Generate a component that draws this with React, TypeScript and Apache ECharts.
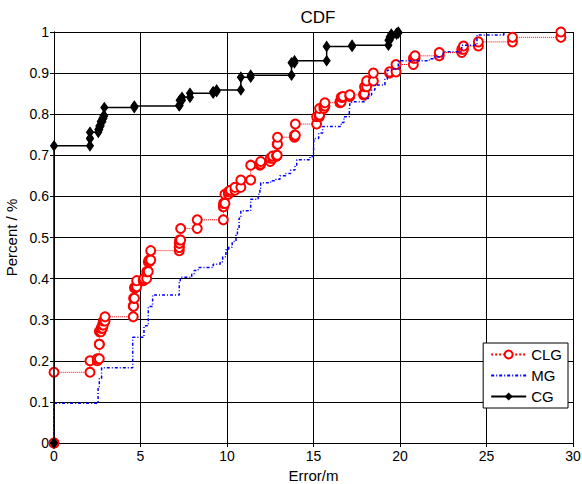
import React, { useEffect, useRef } from "react";
import * as echarts from "echarts";

const seriesNames = ["CLG", "MG", "CG"];
const xTicks = [0, 5, 10, 15, 20, 25, 30];
const yTicks = [0, 0.1, 0.2, 0.3, 0.4, 0.5, 0.6, 0.7, 0.8, 0.9, 1];

// CDF jump points [error (m), cumulative fraction]
const clgPoints: number[][] = [
  [0, 0], [0, 0.172], [2.08, 0.2], [2.5, 0.205], [2.62, 0.24], [2.62, 0.271], [2.72, 0.279],
  [2.8, 0.287], [2.85, 0.297], [2.95, 0.307], [4.58, 0.333], [4.6, 0.352], [4.65, 0.378],
  [4.7, 0.38], [4.78, 0.395], [5.16, 0.397], [5.2, 0.4], [5.36, 0.417], [5.45, 0.441],
  [5.5, 0.445], [5.59, 0.468], [7.24, 0.476], [7.24, 0.486], [7.26, 0.494], [7.32, 0.522],
  [8.28, 0.543], [9.79, 0.575], [9.8, 0.583], [9.88, 0.605], [10.08, 0.611], [10.2, 0.615],
  [10.46, 0.622], [10.8, 0.64], [11.37, 0.676], [11.9, 0.679], [11.95, 0.685], [12.5, 0.693],
  [12.64, 0.698], [12.87, 0.7], [12.9, 0.727], [12.92, 0.744], [13.9, 0.749], [13.95, 0.776],
  [15.18, 0.794], [15.33, 0.798], [15.35, 0.814], [15.6, 0.82], [15.66, 0.828], [16.53, 0.83],
  [16.6, 0.841], [16.7, 0.843], [17.1, 0.847], [17.9, 0.849], [17.95, 0.867], [18.07, 0.881],
  [18.46, 0.9], [19.4, 0.903], [19.77, 0.921], [20.77, 0.936], [20.87, 0.942], [22.27, 0.95],
  [23.57, 0.958], [23.67, 0.966], [24.53, 0.976], [26.5, 0.987], [29.3, 1.0],
];

const mgPoints: number[][] = [
  [0, 0], [0, 0.097], [2.5, 0.1], [2.55, 0.135], [2.62, 0.157], [2.75, 0.183], [4.55, 0.257],
  [5.2, 0.285], [5.45, 0.332], [5.7, 0.36], [7.24, 0.392], [7.3, 0.403], [7.96, 0.412],
  [8.1, 0.42], [8.34, 0.427], [9.2, 0.435], [9.6, 0.441], [9.75, 0.453], [9.94, 0.47],
  [10.1, 0.476], [10.3, 0.49], [10.52, 0.506], [10.6, 0.52], [10.7, 0.547], [10.8, 0.565],
  [11.37, 0.593], [11.8, 0.605], [11.9, 0.62], [11.95, 0.633], [12.52, 0.638], [12.83, 0.642],
  [13.06, 0.65], [13.4, 0.656], [13.68, 0.664], [13.93, 0.674], [14.03, 0.689], [14.8, 0.697],
  [15.0, 0.703], [15.02, 0.741], [15.3, 0.754], [15.53, 0.77], [16.6, 0.78], [16.76, 0.794],
  [17.07, 0.806], [17.1, 0.826], [17.2, 0.83], [18.0, 0.838], [18.17, 0.847], [18.36, 0.859],
  [18.55, 0.871], [19.13, 0.885], [19.27, 0.907], [19.5, 0.91], [19.9, 0.93], [21.7, 0.935],
  [22.0, 0.94], [22.5, 0.952], [23.57, 0.968], [24.45, 0.993], [26.0, 1.0],
];

const cgPoints: number[][] = [
  [0, 0], [0, 0.723], [2.08, 0.741], [2.08, 0.756], [2.56, 0.763], [2.62, 0.771], [2.7, 0.782],
  [2.8, 0.79], [2.86, 0.796], [2.91, 0.816], [4.64, 0.82], [7.24, 0.822], [7.26, 0.834],
  [7.4, 0.841], [7.86, 0.851], [9.2, 0.855], [9.4, 0.859], [10.8, 0.89], [11.37, 0.895],
  [13.73, 0.925], [13.9, 0.93], [15.76, 0.965], [17.23, 0.968], [19.33, 0.98], [19.4, 0.988],
  [19.5, 0.995], [19.8, 0.997], [19.9, 1.0],
];

// stairs vertices: each jump gives (x_i, y_{i-1}) and (x_i, y_i)
function stairs(pts: number[][]): number[][] {
  const out: number[][] = [pts[0]];
  for (let i = 1; i < pts.length; i++) {
    out.push([pts[i][0], pts[i - 1][1]]);
    out.push([pts[i][0], pts[i][1]]);
  }
  return out;
}

const FONT = "'Liberation Sans', Arial, sans-serif";

export default function App() {
  const ref = useRef<HTMLDivElement>(null);
  useEffect(() => {
    if (!ref.current) return;
    const chart = echarts.init(ref.current, undefined, { renderer: "svg" });
    const axisCommon = {
      axisLine: { show: true, lineStyle: { color: "#000", width: 1 } },
      axisTick: { show: true, inside: true, length: 4, lineStyle: { color: "#000" } },
    };
    chart.setOption({
      animation: false,
      backgroundColor: "#fff",
      textStyle: { fontFamily: FONT },
      title: {
        text: "CDF",
        left: 313,
        textAlign: "center",
        top: 4,
        textStyle: { fontSize: 17, fontWeight: "normal", color: "#000", fontFamily: FONT },
      },
      grid: {
        left: 54,
        right: 9,
        top: 32,
        bottom: 41,
        show: false,
        containLabel: false,
        outerBoundsMode: "none",
      },
      legend: {
        orient: "vertical",
        right: 14,
        top: 343,
        data: [
          { name: seriesNames[0] },
          { name: seriesNames[1], itemStyle: { opacity: 0 } },
          { name: seriesNames[2] },
        ],
        backgroundColor: "#fff",
        borderColor: "#000",
        borderWidth: 1,
        borderRadius: 0,
        padding: [4, 6, 4, 7],
        itemGap: 6,
        itemWidth: 35,
        itemHeight: 10,
        textStyle: { fontSize: 15, color: "#000", fontFamily: FONT },
      },
      xAxis: [
        {
          type: "value",
          min: 0,
          max: 30,
          interval: 5,
          name: "Error/m",
          nameLocation: "middle",
          nameGap: 24,
          nameTextStyle: { fontSize: 15, color: "#000", fontFamily: FONT },
          axisLabel: { color: "#000", fontSize: 14, margin: 6, fontFamily: FONT },
          splitLine: { show: true, lineStyle: { color: "#000", width: 1 } },
          ...axisCommon,
        },
        {
          type: "value",
          position: "top",
          min: 0,
          max: 30,
          interval: 5,
          axisLabel: { show: false },
          splitLine: { show: false },
          ...axisCommon,
        },
      ],
      yAxis: [
        {
          type: "value",
          min: 0,
          max: 1,
          interval: 0.1,
          name: "Percent / %",
          nameLocation: "middle",
          nameGap: 32,
          nameTextStyle: { fontSize: 15, color: "#000", fontFamily: FONT },
          axisLabel: {
            color: "#000",
            fontSize: 14,
            margin: 5,
            fontFamily: FONT,
            formatter: (v: number) => {
              const t = yTicks.find((y) => Math.abs(y - v) < 1e-6);
              return t === undefined ? "" : String(+t.toFixed(1));
            },
          },
          splitLine: { show: true, lineStyle: { color: "#000", width: 1 } },
          ...axisCommon,
        },
        {
          type: "value",
          position: "right",
          min: 0,
          max: 1,
          interval: 0.1,
          axisLabel: { show: false },
          splitLine: { show: false },
          ...axisCommon,
        },
      ],
      series: [
        {
          name: "CLG",
          type: "line",
          data: stairs(clgPoints),
          symbol: "emptyCircle",
          symbolSize: 9,
          showAllSymbol: true,
          lineStyle: { color: "#ff0000", width: 1, type: "dotted" },
          itemStyle: { color: "#ff0000", borderColor: "#ff0000", borderWidth: 1.8 },
          z: 2,
        },
        {
          name: "MG",
          type: "line",
          step: "end",
          data: mgPoints,
          symbol: "none",
          lineStyle: { color: "#0000ff", width: 1.5, type: [3, 2, 1, 2] },
          itemStyle: { color: "#0000ff" },
          z: 3,
        },
        {
          name: "CG",
          type: "line",
          data: stairs(cgPoints),
          symbol: "diamond",
          symbolSize: [7, 10],
          showAllSymbol: true,
          lineStyle: { color: "#000", width: 1.5, type: "solid" },
          itemStyle: { color: "#000", borderColor: "#000" },
          z: 4,
        },
      ],
    });
    return () => chart.dispose();
  }, []);
  void xTicks;
  return (
    <div
      ref={ref}
      style={{ position: "fixed", left: 0, top: 0, width: 582, height: 484, background: "#fff" }}
    />
  );
}
